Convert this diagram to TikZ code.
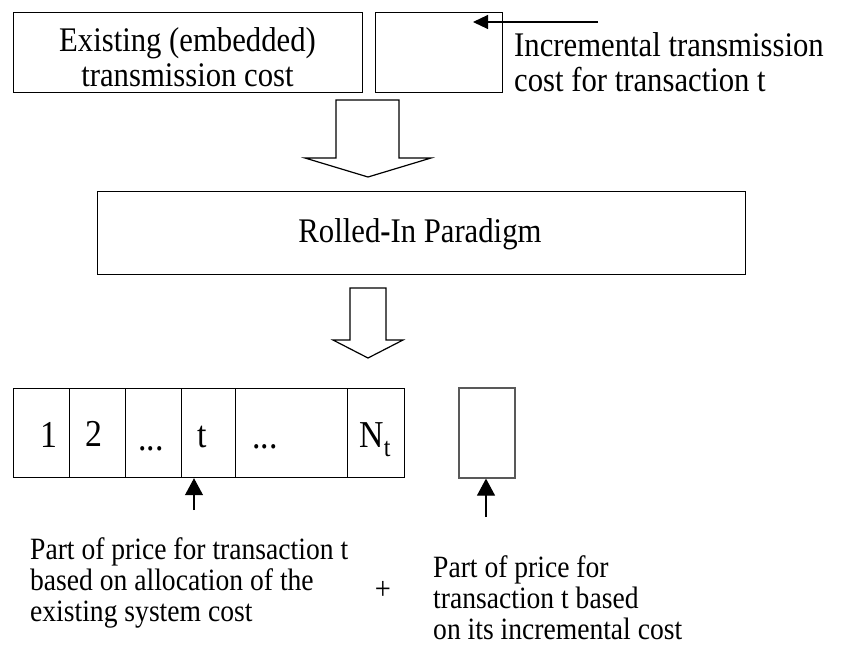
\documentclass[tikz,border=0pt]{standalone}
\usepackage{fontspec}
\setmainfont{Liberation Serif}
\newfontfamily\condserif[FakeStretch=0.89]{Liberation Serif}
\usetikzlibrary{arrows.meta}
\begin{document}
\begin{tikzpicture}[x=1pt,y=-1pt,
  box/.style={draw,line width=1.2pt,inner sep=0pt,anchor=north west},
  bigtxt/.style={font={\condserif\fontsize{34.5}{34.5}\selectfont}},
  celltxt/.style={font={\condserif\fontsize{38}{38}\selectfont}},
  smalltxt/.style={font={\condserif\fontsize{31}{31}\selectfont}},
  ptr/.style={line width=1.1pt,-{Triangle[length=15pt,width=14pt]}},
  ptrbig/.style={line width=1.1pt,-{Triangle[length=17pt,width=18pt]}},
  blockarrow/.style={draw,line width=1.2pt,fill=white,line join=miter}]
\useasboundingbox (0,0) rectangle (846,649);

% top row: existing cost and incremental cost boxes
\node[box,minimum width=349pt,minimum height=80pt] (exist) at (13,12) {};
\node[bigtxt,align=center,inner sep=0pt] (existlbl) at (187.5,57)
  {Existing (embedded)\\transmission cost};
\node[box,minimum width=127pt,minimum height=80pt] (incr) at (375,12) {};
\node[bigtxt,align=left,anchor=west,inner sep=0pt] (incrlbl) at (514,62)
  {Incremental transmission\\cost for transaction t};
\coordinate (src) at (598,22);
\coordinate (tipB) at (473,22);
\draw[ptr] (src) -- (tipB);

% first block arrow
\draw[blockarrow] (336,100) -- (336,158) -- (305,158) -- (368,177) -- (431,158)
  -- (399,158) -- (399,100) -- cycle;

% paradigm box
\node[box,minimum width=648pt,minimum height=83pt] (rolled) at (97,191) {};
\node[bigtxt,inner sep=0pt] (rolledlbl) at (420,234) {Rolled{\bfseries -}In Paradigm};

% second block arrow
\draw[blockarrow] (350,288) -- (350,340) -- (333,340) -- (368,358) -- (403,340)
  -- (386,340) -- (386,288) -- cycle;

% allocation cells
\node[box,minimum width=56pt,minimum height=89pt] (c1) at (13,388) {};
\node[box,minimum width=56pt,minimum height=89pt] (c2) at (69,388) {};
\node[box,minimum width=56pt,minimum height=89pt] (c3) at (125,388) {};
\node[box,minimum width=54pt,minimum height=89pt] (ct) at (181,388) {};
\node[box,minimum width=112pt,minimum height=89pt] (c5) at (235,388) {};
\node[box,minimum width=57pt,minimum height=89pt] (cN) at (347,388) {};
\node[celltxt,anchor=base] (l1) at (49,447) {1};
\node[celltxt,anchor=base] (l2) at (94,446) {2};
\node[celltxt,anchor=base] (l3) at (151,450) {...};
\node[celltxt,anchor=base] (lt) at (202,447) {t};
\node[celltxt,anchor=base] (l5) at (265,448) {...};
\node[celltxt,anchor=base] (lN) at (375,447)
  {N\raisebox{-9pt}{\fontsize{27}{27}\selectfont t}};

% incremental part box
\node[box,draw=black!65,line width=1.6pt,minimum width=56pt,minimum height=90pt] (inc) at (458,387) {};

% pointers to the parts
\coordinate (a1) at (194,510);
\coordinate (a2) at (486,517);
\draw[ptrbig] (a1) -- (a1 |- ct.south);
\draw[ptrbig] (a2) -- (a2 |- inc.south);

% captions
\node[smalltxt,align=left,anchor=west,inner sep=0pt] (lpart) at (30,583)
  {Part of price for transaction t\\based on allocation of the\\existing system cost};
\node[font={\condserif\fontsize{32}{32}\selectfont},inner sep=0pt] (plus) at (383,590) {+};
\node[smalltxt,align=left,anchor=west,inner sep=0pt] (rpart) at (433,598)
  {Part of price for\\transaction t based\\on its incremental cost};
\end{tikzpicture}
\end{document}
